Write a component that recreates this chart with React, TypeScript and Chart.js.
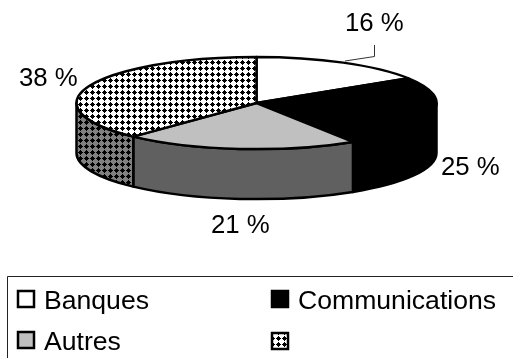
import React, { useEffect, useRef } from "react";
import { Chart, registerables } from "chart.js";

Chart.register(...registerables);

const categories = ["Banques", "Communications", "Autres", ""];
const shares = [16, 25, 21, 38];
const sideColors = ["#ffffff", "#000000", "#606060", "#808080"];
const topColors = ["#ffffff", "#000000", "#c0c0c0", "#ffffff"];
const dottedSlice = 3;

const VALUE_FONT = "25.8px 'Liberation Sans', Arial, sans-serif";
const LEGEND_FONT = "26.6px 'Liberation Sans', Arial, sans-serif";
const TILT = 0.256;
const DEPTH = 50;
const LINE = 2.5;

// Anchors of the percentage labels, in slice order (left edge, baseline).
const valueLabelSpots = [
  [345, 31],
  [441, 175],
  [211, 233],
  [19, 86],
];
// Legend swatch cells (swatch left, swatch top), in slice order.
const legendCells = [
  [18, 291],
  [272, 291],
  [18, 332],
  [272, 333],
];

// Plus-shaped dots on a 6px lattice, as used for the last slice.
function dotPattern(ctx: CanvasRenderingContext2D, ground: string) {
  const tile = document.createElement("canvas");
  tile.width = 6;
  tile.height = 6;
  const t = tile.getContext("2d")!;
  t.fillStyle = ground;
  t.fillRect(0, 0, 6, 6);
  t.fillStyle = "#000";
  t.fillRect(1, 1, 3, 3);
  t.fillRect(0, 2, 5, 1);
  t.fillRect(2, 0, 1, 5);
  return ctx.createPattern(tile, "repeat")!;
}

const pie3d = {
  id: "pie3d",
  beforeDatasetsDraw(chart: any) {
    const ctx: CanvasRenderingContext2D = chart.ctx;
    const arcs = chart.getDatasetMeta(0).data;
    const cx = arcs[0].x;
    const cy = arcs[0].y;
    const rx = arcs[0].outerRadius;
    const ry = rx * TILT;

    ctx.save();
    ctx.lineWidth = LINE;
    ctx.lineJoin = "round";
    ctx.strokeStyle = "#000";

    // Rim: only the part of each slice that faces the viewer.
    arcs.forEach((arc: any, i: number) => {
      const from = Math.max(arc.startAngle, 0);
      const to = Math.min(arc.endAngle, Math.PI);
      if (to <= from) return;
      ctx.beginPath();
      ctx.ellipse(cx, cy, rx, ry, 0, from, to);
      ctx.ellipse(cx, cy + DEPTH, rx, ry, 0, to, from, true);
      ctx.closePath();
      ctx.fillStyle = i === dottedSlice ? dotPattern(ctx, sideColors[i]) : sideColors[i];
      ctx.fill();
      ctx.stroke();
    });

    // Top face.
    arcs.forEach((arc: any, i: number) => {
      ctx.beginPath();
      ctx.moveTo(cx, cy);
      ctx.ellipse(cx, cy, rx, ry, 0, arc.startAngle, arc.endAngle);
      ctx.closePath();
      ctx.fillStyle = i === dottedSlice ? dotPattern(ctx, topColors[i]) : topColors[i];
      ctx.fill();
      ctx.stroke();
    });
    ctx.restore();
    return false;
  },
  afterDraw(chart: any) {
    const ctx: CanvasRenderingContext2D = chart.ctx;
    ctx.save();
    ctx.textBaseline = "alphabetic";
    ctx.textAlign = "left";
    ctx.fillStyle = "#000";

    ctx.font = VALUE_FONT;
    shares.forEach((v, i) => {
      ctx.fillText(`${v} %`, valueLabelSpots[i][0], valueLabelSpots[i][1]);
    });

    // Leader line of the first slice.
    ctx.strokeStyle = "#333";
    ctx.lineWidth = 1;
    ctx.beginPath();
    ctx.moveTo(374.5, 45);
    ctx.lineTo(374.5, 56.5);
    ctx.lineTo(345, 61);
    ctx.stroke();

    // Legend frame runs off the right and bottom of the canvas.
    ctx.strokeStyle = "#222";
    ctx.beginPath();
    ctx.moveTo(7.5, 358);
    ctx.lineTo(7.5, 276.5);
    ctx.lineTo(513, 276.5);
    ctx.stroke();

    ctx.font = LEGEND_FONT;
    categories.forEach((name, i) => {
      const [x, y] = legendCells[i];
      ctx.fillStyle = i === dottedSlice ? dotPattern(ctx, topColors[i]) : topColors[i];
      ctx.strokeStyle = "#000";
      ctx.lineWidth = 2.5;
      ctx.fillRect(x, y, 16, 16);
      ctx.strokeRect(x, y, 16, 16);
      ctx.fillStyle = "#000";
      ctx.fillText(name, x + 26, y + 18);
    });
    ctx.restore();
  },
};

export default function App() {
  const ref = useRef<HTMLCanvasElement>(null);
  useEffect(() => {
    const chart = new Chart(ref.current!, {
      type: "pie",
      data: {
        labels: categories,
        datasets: [{ data: shares, backgroundColor: topColors, borderColor: "#000" }],
      },
      options: {
        responsive: false,
        animation: false,
        radius: 180,
        layout: { padding: { bottom: 152 } },
        plugins: { legend: { display: false }, tooltip: { enabled: false } },
      },
      plugins: [pie3d],
    } as any);
    return () => chart.destroy();
  }, []);
  return (
    <canvas
      ref={ref}
      width={513}
      height={358}
      style={{ position: "absolute", left: 0, top: 0, width: 513, height: 358 }}
    />
  );
}
